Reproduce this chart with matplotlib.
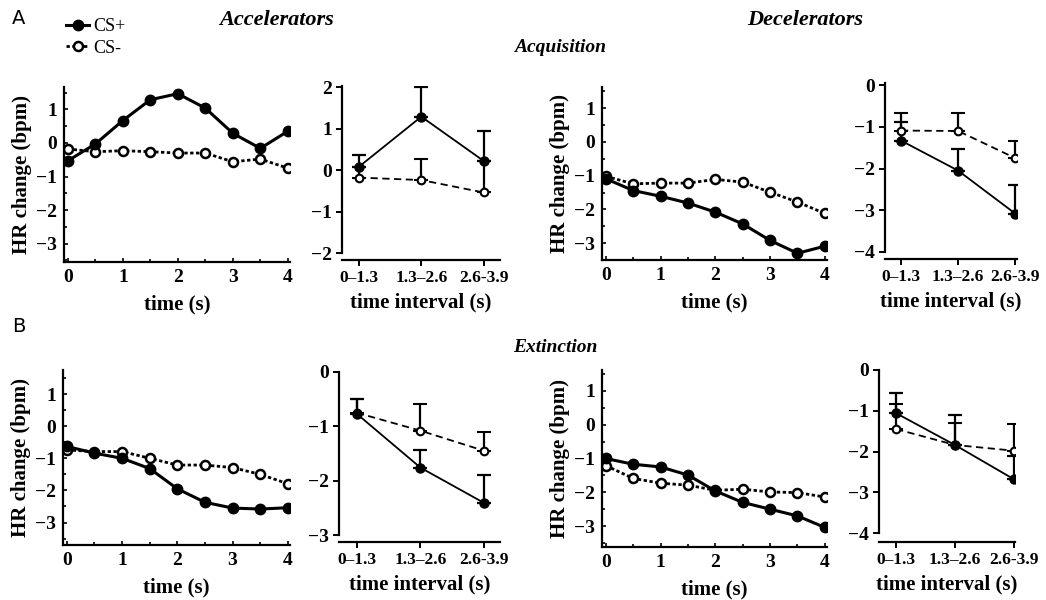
import matplotlib
matplotlib.use("Agg")
import matplotlib.pyplot as plt
from matplotlib.ticker import MultipleLocator

# time course (s) and interval bins
t = [0, 0.5, 1, 1.5, 2, 2.5, 3, 3.5, 4]
intervals = ['0\u20131.3', '1.3\u20132.6', '2.6-3.9']

# A: acquisition
acc_acq_csp = [-0.53, -0.03, 0.67, 1.29, 1.47, 1.04, 0.29, -0.16, 0.35]
acc_acq_csm = [-0.18, -0.26, -0.23, -0.26, -0.30, -0.30, -0.56, -0.48, -0.75]
acc_acq_int_csp = [0.08, 1.29, 0.22]
acc_acq_int_csp_err = [0.28, 0.71, 0.73]
acc_acq_int_csm = [-0.18, -0.24, -0.54]
acc_acq_int_csm_err = [0.26, 0.51, 0.76]

dec_acq_csp = [-1.09, -1.44, -1.61, -1.81, -2.08, -2.43, -2.92, -3.30, -3.09]
dec_acq_csm = [-1.02, -1.24, -1.22, -1.22, -1.11, -1.19, -1.49, -1.78, -2.12]
dec_acq_int_csp = [-1.33, -2.05, -3.08]
dec_acq_int_csp_err = [0.44, 0.52, 0.69]
dec_acq_int_csm = [-1.09, -1.10, -1.75]
dec_acq_int_csm_err = [0.41, 0.42, 0.42]

# B: extinction
acc_ext_csp = [-0.63, -0.84, -1.00, -1.32, -1.95, -2.37, -2.55, -2.58, -2.54]
acc_ext_csm = [-0.74, -0.79, -0.79, -1.00, -1.21, -1.21, -1.29, -1.50, -1.79]
acc_ext_int_csp = [-0.77, -1.76, -2.41]
acc_ext_int_csp_err = [0.28, 0.33, 0.51]
acc_ext_int_csm = [-0.75, -1.08, -1.45]
acc_ext_int_csm_err = [0.26, 0.49, 0.35]

dec_ext_csp = [-1.00, -1.17, -1.25, -1.49, -1.96, -2.30, -2.50, -2.70, -3.04]
dec_ext_csm = [-1.21, -1.59, -1.73, -1.79, -1.94, -1.91, -1.99, -2.01, -2.14]
dec_ext_int_csp = [-1.06, -1.84, -2.68]
dec_ext_int_csp_err = [0.49, 0.74, 0.57]
dec_ext_int_csm = [-1.45, -1.84, -1.98]
dec_ext_int_csm_err = [0.61, 0.55, 0.65]

W, H = 1046, 600
SERIF = 'Liberation Serif'
plt.rcParams['font.family'] = SERIF
plt.rcParams['axes.unicode_minus'] = True

fig = plt.figure(figsize=(W / 100, H / 100), dpi=100)


def rect(l, t_, r, b):
    return [l / W, 1 - b / H, (r - l) / W, (b - t_) / H]


def style_common(ax, xsize=14):
    ax.spines['top'].set_visible(False)
    ax.spines['right'].set_visible(False)
    for s in ('left', 'bottom'):
        ax.spines[s].set_linewidth(1.6)
    for lab in ax.get_yticklabels():
        lab.set_fontweight('bold')
        lab.set_fontsize(14)
    for lab in ax.get_xticklabels():
        lab.set_fontweight('bold')
        lab.set_fontsize(xsize)


def time_panel(ax, csp, csm, ylim):
    ax.plot(t, csm, linestyle=(0, (1.2, 0.9)), color='black', lw=2.0,
            marker='o', ms=6.5, mfc='white', mec='black', mew=1.8, label='CS-')
    ax.plot(t, csp, linestyle='-', color='black', lw=2.2,
            marker='o', ms=7.5, mfc='black', mec='black', label='CS+')
    ax.set_xlim(-0.07, 4.04)
    ax.set_ylim(*ylim)
    ax.xaxis.set_major_locator(MultipleLocator(1))
    ax.xaxis.set_minor_locator(MultipleLocator(0.5))
    ax.yaxis.set_major_locator(MultipleLocator(1))
    ax.yaxis.set_minor_locator(MultipleLocator(0.5))
    ax.tick_params(which='both', direction='in', width=1.2)
    ax.tick_params(which='major', length=3, pad=5)
    ax.tick_params(which='minor', length=2.5)
    ax.set_xlabel('time (s)', fontsize=15, fontweight='bold', labelpad=6)
    ax.set_ylabel('HR change (bpm)', fontsize=15, fontweight='bold', labelpad=3)
    style_common(ax)


def interval_panel(ax, csp, csp_err, csm, csm_err, ylim, xlim, offset):
    x = list(range(len(intervals)))
    ax.errorbar(x, csm, yerr=[[0] * len(csm_err), csm_err], color='black',
                linestyle=(0, (4, 2.5)), lw=1.3, marker='o', ms=5.5,
                mfc='white', mec='black', mew=1.5, capsize=5, elinewidth=1.6,
                capthick=1.6)
    ax.errorbar(x, csp, yerr=[[0] * len(csp_err), csp_err], color='black',
                linestyle='-', lw=1.3, marker='o', ms=6.5, mfc='black',
                mec='black', capsize=5, elinewidth=1.6, capthick=1.6)
    ax.set_xlim(*xlim)
    ax.set_ylim(*ylim)
    ax.set_xticks(x)
    ax.set_xticklabels(intervals)
    ax.yaxis.set_major_locator(MultipleLocator(1))
    ax.spines['bottom'].set_position(('outward', offset))
    ax.tick_params(which='both', direction='out', width=1.4, length=4, pad=3)
    ax.set_xlabel('time interval (s)', fontsize=15, fontweight='bold', labelpad=5)
    style_common(ax, xsize=12.5)


ax1 = fig.add_axes(rect(64, 87, 290, 262))
time_panel(ax1, acc_acq_csp, acc_acq_csm, (-3.55, 1.67))
ax2 = fig.add_axes(rect(342, 86, 500, 253))
interval_panel(ax2, acc_acq_int_csp, acc_acq_int_csp_err, acc_acq_int_csm,
               acc_acq_int_csm_err, (-2, 2.03), (-0.27, 2.26), 5)
ax3 = fig.add_axes(rect(602, 87, 827, 260))
time_panel(ax3, dec_acq_csp, dec_acq_csm, (-3.5, 1.63))
ax4 = fig.add_axes(rect(885, 83, 1017, 252))
interval_panel(ax4, dec_acq_int_csp, dec_acq_int_csp_err, dec_acq_int_csm,
               dec_acq_int_csm_err, (-4, 0.05), (-0.28, 2.03), 5)

ax5 = fig.add_axes(rect(63, 370, 290, 545))
time_panel(ax5, acc_ext_csp, acc_ext_csm, (-3.7, 1.75))
ax6 = fig.add_axes(rect(339, 372, 500, 535))
interval_panel(ax6, acc_ext_int_csp, acc_ext_int_csp_err, acc_ext_int_csm,
               acc_ext_int_csm_err, (-3, 0), (-0.28, 2.25), 5)
ax7 = fig.add_axes(rect(602, 370, 827, 547))
time_panel(ax7, dec_ext_csp, dec_ext_csm, (-3.62, 1.62))
ax8 = fig.add_axes(rect(879, 370, 1015, 533))
interval_panel(ax8, dec_ext_int_csp, dec_ext_int_csp_err, dec_ext_int_csm,
               dec_ext_int_csm_err, (-4, 0), (-0.29, 2.02), 6.5)

# legend
h, l = ax1.get_legend_handles_labels()
fig.legend(h[::-1], l[::-1], loc='upper left', bbox_to_anchor=(66 / W, 1 - 18 / H),
           frameon=False, handlelength=1.3, handletextpad=0.2, labelspacing=0.25,
           prop={'family': SERIF, 'size': 13}, borderaxespad=0, borderpad=0)

# panel letters and titles
fig.text(12 / W, 1 - 18 / H, 'A', fontsize=14, family='DejaVu Sans', va='center')
fig.text(12 / W, 1 - 327 / H, 'B', fontsize=14, family='DejaVu Sans', va='center')
tkw = dict(fontweight='bold', style='italic', ha='center', va='center')
fig.text(277 / W, 1 - 20 / H, 'Accelerators', fontsize=16, **tkw)
fig.text(805 / W, 1 - 20 / H, 'Decelerators', fontsize=16, **tkw)
fig.text(560 / W, 1 - 47 / H, 'Acquisition', fontsize=14, **tkw)
fig.text(555 / W, 1 - 347 / H, 'Extinction', fontsize=14, **tkw)

fig.savefig('out.png', dpi=100)
